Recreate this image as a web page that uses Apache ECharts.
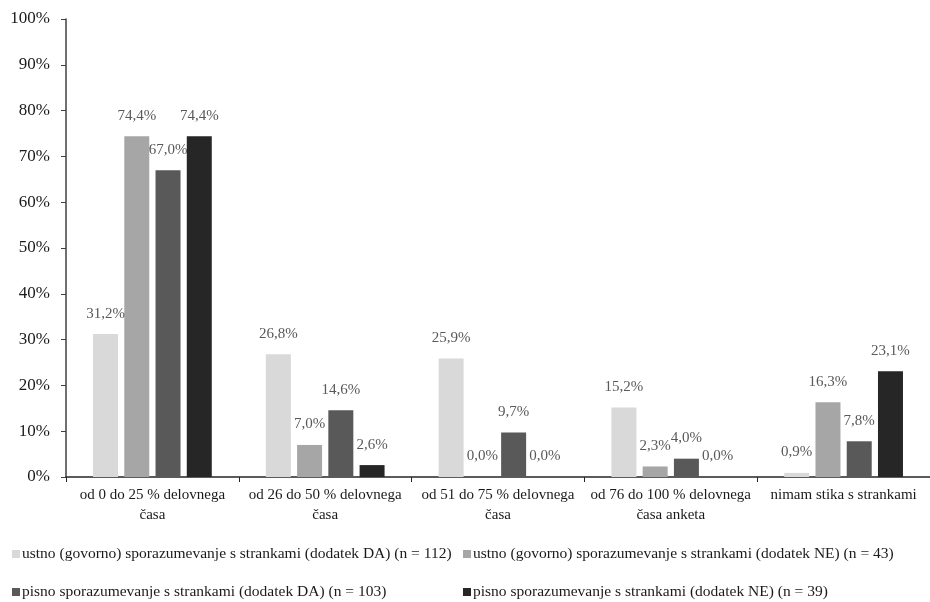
<!DOCTYPE html>
<html>
<head>
<meta charset="utf-8">
<script src="https://cdn.jsdelivr.net/npm/echarts@6/dist/echarts.min.js"></script>
<style>
  html, body { margin: 0; padding: 0; background: #fff; }
  #chart { width: 930px; height: 602px; }
</style>
</head>
<body>
<div id="chart"></div>
<script>
const categories = [
  'od 0 do 25 % delovnega\nčasa',
  'od 26 do 50 % delovnega\nčasa',
  'od 51 do 75 % delovnega\nčasa',
  'od 76 do 100 % delovnega\nčasa anketa',
  'nimam stika s strankami'
]
const seriesNames = [
  'ustno (govorno) sporazumevanje s strankami (dodatek DA) (n = 112)',
  'ustno (govorno) sporazumevanje s strankami (dodatek NE) (n = 43)',
  'pisno sporazumevanje s strankami (dodatek DA) (n = 103)',
  'pisno sporazumevanje s strankami (dodatek NE) (n = 39)'
]
const oralYes = [31.2, 26.8, 25.9, 15.2, 0.9]
const oralNo = [74.4, 7.0, 0.0, 2.3, 16.3]
const writtenYes = [67.0, 14.6, 9.7, 4.0, 7.8]
const writtenNo = [74.4, 2.6, 0.0, 0.0, 23.1]
const colors = ['#d9d9d9', '#a6a6a6', '#595959', '#262626']

const font = '"Liberation Serif", "Times New Roman", serif'
const fmt = v => v.toFixed(1).replace('.', ',') + '%'

// legenda: 2 vrstici x 2 stolpca
const legendPos = [
  { left: 12, top: 546 },
  { left: 463, top: 546 },
  { left: 12, top: 584 },
  { left: 463, top: 584 }
]

const chart = echarts.init(document.getElementById('chart'))

chart.setOption({
  backgroundColor: '#fff',
  animation: false,
  textStyle: { fontFamily: font },
  color: colors,
  grid: { left: 66, right: 0, top: 19, bottom: 125, containLabel: false },
  legend: legendPos.map((p, i) => ({
    left: p.left,
    top: p.top,
    icon: 'rect',
    itemWidth: 8,
    itemHeight: 8,
    padding: 0,
    textStyle: { fontFamily: font, fontSize: 15.5, color: '#1a1a1a', padding: [0, 0, 0, -3] },
    data: [seriesNames[i]]
  })),
  xAxis: {
    type: 'category',
    data: categories,
    axisLine: { lineStyle: { color: '#262626', width: 1.5 } },
    axisTick: { show: true, length: 5, lineStyle: { color: '#262626' } },
    axisLabel: {
      fontFamily: font, fontSize: 15, color: '#1a1a1a',
      lineHeight: 20, margin: 8, interval: 0
    }
  },
  yAxis: {
    type: 'value',
    min: 0,
    max: 100,
    interval: 10,
    axisLine: { show: true, lineStyle: { color: '#404040', width: 1.5 } },
    axisTick: { show: true, length: 5, lineStyle: { color: '#404040' } },
    splitLine: { show: false },
    axisLabel: {
      fontFamily: font, fontSize: 17, color: '#1a1a1a', margin: 16,
      formatter: v => v + '%'
    }
  },
  series: [oralYes, oralNo, writtenYes, writtenNo].map((d, i) => ({
    name: seriesNames[i],
    type: 'bar',
    data: d,
    barWidth: 25,
    barGap: '25%',
    label: {
      show: true,
      position: 'top',
      distance: 13,
      fontFamily: font,
      fontSize: 15,
      color: '#595959',
      formatter: p => fmt(p.value)
    }
  }))
})
</script>
</body>
</html>
